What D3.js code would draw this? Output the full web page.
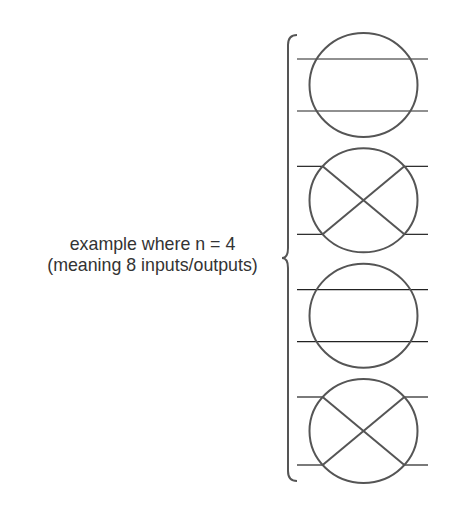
<!DOCTYPE html>
<html><head><meta charset="utf-8">
<script src="https://cdn.jsdelivr.net/npm/d3@7"></script>
<style>body{margin:0;background:#fff}</style>
</head><body>
<svg id="c" width="462" height="512"></svg>
<script>
const stages = ["straight", "cross", "straight", "cross"];
const stageIndex = [0, 1, 2, 3];
const labelLines = ["example where n = 4", "(meaning 8 inputs/outputs)"];

(function () {
const svg = d3.select("#c");
const y = d3.scaleLinear().domain([0, 3]).range([85, 431]);
const cx = 363.5, rx = 54, ry = 52;
const lineX0 = 297, lineX1 = 428;
const off = {straight: 26, cross: 34};

const g = svg.append("g");
stages.forEach((t, i) => {
  const cy = y(stageIndex[i]);
  const o = off[t];
  const ys = [cy - o, cy + o];
  if (t === "straight") {
    ys.forEach(yy => g.append("line").attr("x1", lineX0).attr("x2", lineX1).attr("y1", yy).attr("y2", yy)
      .attr("stroke", "#222").attr("stroke-width", 1.2));
  } else {
    const dx = rx * Math.sqrt(1 - (o / ry) ** 2);
    ys.forEach(yy => {
      g.append("line").attr("x1", lineX0).attr("x2", cx - dx).attr("y1", yy).attr("y2", yy).attr("stroke", "#222").attr("stroke-width", 1.2);
      g.append("line").attr("x1", cx + dx).attr("x2", lineX1).attr("y1", yy).attr("y2", yy).attr("stroke", "#222").attr("stroke-width", 1.2);
    });
    g.append("line").attr("x1", cx - dx).attr("y1", ys[0]).attr("x2", cx + dx).attr("y2", ys[1]).attr("stroke", "#555").attr("stroke-width", 2);
    g.append("line").attr("x1", cx + dx).attr("y1", ys[0]).attr("x2", cx - dx).attr("y2", ys[1]).attr("stroke", "#555").attr("stroke-width", 2);
  }
  g.append("ellipse").attr("cx", cx).attr("cy", cy).attr("rx", rx).attr("ry", ry)
    .attr("fill", "none").attr("stroke", "#555").attr("stroke-width", 2);
});

// brace
const bTop = 35, bBot = 481, mid = (bTop + bBot) / 2, bx = 288;
svg.append("path")
  .attr("d", `M${bx+9},${bTop} Q${bx},${bTop} ${bx},${bTop+10} L${bx},${mid-10} Q${bx},${mid} ${bx-6},${mid} Q${bx},${mid} ${bx},${mid+10} L${bx},${bBot-10} Q${bx},${bBot} ${bx+9},${bBot}`)
  .attr("fill", "none").attr("stroke", "#555").attr("stroke-width", 2);

svg.append("g").selectAll("text").data(labelLines).join("text")
  .attr("x", 152.5).attr("y", (d, i) => 250 + i * 21)
  .attr("text-anchor", "middle")
  .attr("font-family", "Liberation Sans, Arial, sans-serif")
  .attr("font-size", 17.8).attr("fill", "#333")
  .text(d => d);
})();
</script>
</body></html>
